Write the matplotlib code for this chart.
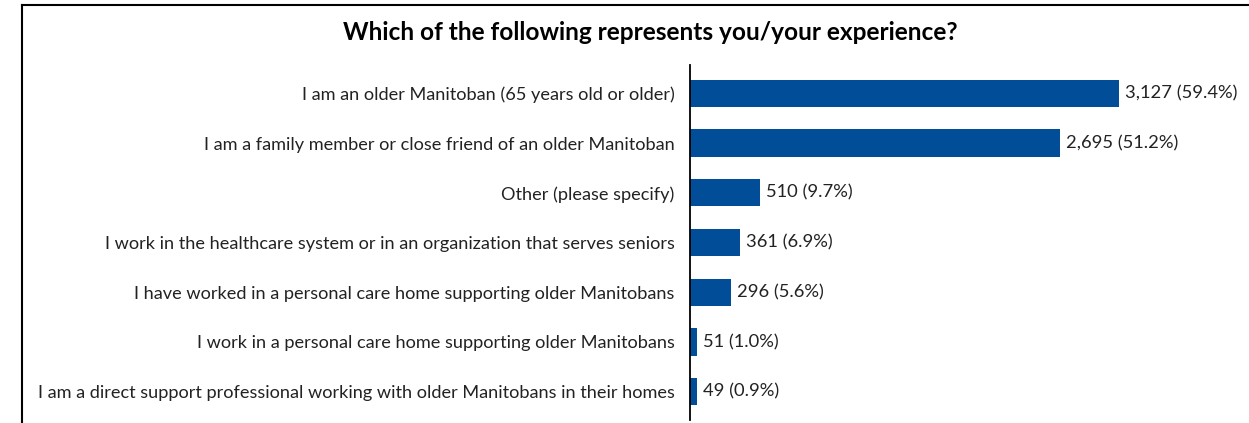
import matplotlib.pyplot as plt
from matplotlib.lines import Line2D

categories = [
    "I am an older Manitoban (65 years old or older)",
    "I am a family member or close friend of an older Manitoban",
    "Other (please specify)",
    "I work in the healthcare system or in an organization that serves seniors",
    "I have worked in a personal care home supporting older Manitobans",
    "I work in a personal care home supporting older Manitobans",
    "I am a direct support professional working with older Manitobans in their homes",
]
counts = [3127, 2695, 510, 361, 296, 51, 49]
percents = [59.4, 51.2, 9.7, 6.9, 5.6, 1.0, 0.9]

plt.rcParams["font.family"] = ["Lato", "DejaVu Sans"]

fig = plt.figure(figsize=(12.49, 4.23), dpi=100)
ax = fig.add_axes([690 / 1249, 3 / 423, 510 / 1249, 355 / 423])

ypos = range(len(categories))
ax.barh(ypos, counts, height=0.55, color="#024D98")
for y, c, p in zip(ypos, counts, percents):
    ax.text(c + 44, y, f"{c:,} ({p:.1f}%)", va="center", ha="left",
            fontsize=13.2, color="#222222")

ax.set_xlim(0, 3717)
ax.set_ylim(6.57, -0.57)
ax.set_yticks(list(ypos))
ax.set_yticklabels(categories, fontsize=13.1, color="#222222")
ax.tick_params(axis="y", length=0, pad=11)
ax.set_xticks([])
for s in ["top", "right", "bottom"]:
    ax.spines[s].set_visible(False)
ax.spines["left"].set_linewidth(1.3)

fig.text(650 / 1249, 1 - 32 / 423, "Which of the following represents you/your experience?",
         ha="center", va="center", fontsize=17.6, fontweight="bold")

# outer frame (top and left edges)
fig.add_artist(Line2D([22 / 1249, 22 / 1249], [0, 1 - 5 / 423], color="black", lw=1.5))
fig.add_artist(Line2D([22 / 1249, 1], [1 - 5 / 423, 1 - 5 / 423], color="black", lw=1.5))

fig.savefig("out.png", dpi=100)
